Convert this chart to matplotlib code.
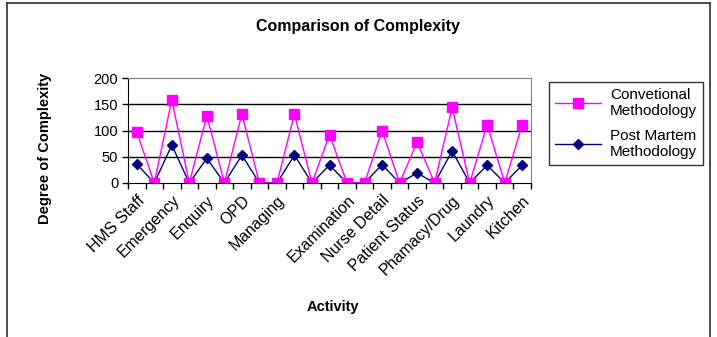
import matplotlib.pyplot as plt
from matplotlib.lines import Line2D

plt.rcParams['font.family'] = ['Liberation Sans', 'DejaVu Sans']

# 23 categories, only every other one carries a name (blanks in between)
categories = ["HMS Staff", "", "Emergency", "", "Enquiry", "", "OPD", "", "Managing", "",
              "", "", "Examination", "", "Nurse Detail", "", "Patient Status", "",
              "Phamacy/Drug", "", "Laundry", "", "Kitchen"]
conventional = [97, 0, 158, 0, 128, 0, 131, 0, 0, 131, 0, 92, 0, 0, 100, 0, 78, 0,
                144, 0, 111, 0, 111]
post_martem = [36, 0, 72, 0, 47, 0, 53, 0, 0, 53, 0, 34, 0, 0, 35, 0, 19, 0,
               61, 0, 34, 0, 34]
y_ticks = [0, 50, 100, 150, 200]

fig = plt.figure(figsize=(7.17, 3.37), dpi=100)
ax = fig.add_axes([128 / 717, 1 - 183 / 337, 403 / 717, 105 / 337])

x = range(len(categories))
ax.plot(x, post_martem, color="#000080", lw=1, marker="D", ms=5,
        mfc="#000080", mec="#000080", label="Post Martem\nMethodology", zorder=3)
ax.plot(x, conventional, color="#FF00FF", lw=1, marker="s", ms=6.5,
        mfc="#FF00FF", mec="#FF00FF", label="Convetional\nMethodology", zorder=4)

ax.set_xlim(-0.5, len(categories) - 0.5)
ax.set_ylim(0, 200)
ax.set_yticks(y_ticks)
ax.tick_params(axis="y", labelsize=10.5, length=4, width=1, pad=3, direction="out")

# category labels at centres, tick marks at boundaries
ax.set_xticks(list(x))
ax.set_xticklabels(categories, rotation=45, ha="right", rotation_mode="anchor", fontsize=11.5)
ax.tick_params(axis="x", which="major", length=0, pad=7)
ax.set_xticks([i - 0.5 for i in range(len(categories) + 1)], minor=True)
ax.tick_params(axis="x", which="minor", length=4, width=1, direction="out")

for v in y_ticks[1:-1]:
    ax.axhline(v, color="black", lw=1, zorder=1)
ax.spines["left"].set_color("black")
ax.spines["bottom"].set_color("black")
ax.spines["top"].set_color("#808080")
ax.spines["right"].set_color("#808080")
ax.spines["bottom"].set_zorder(5)

fig.text(333 / 717, 1 - 307 / 337, "Activity", ha="center", va="center",
         fontsize=10.5, fontweight="bold")
fig.text(45 / 717, 1 - 148 / 337, "Degree of Complexity", ha="center", va="center",
         rotation=90, fontsize=10.5, fontweight="bold")
fig.text(358 / 717, 1 - 27 / 337, "Comparison of Complexity", ha="center", va="center",
         fontsize=11.5, fontweight="bold")

handles, labels = ax.get_legend_handles_labels()
leg = fig.legend(handles[::-1], labels[::-1], loc="upper left",
                 bbox_to_anchor=(549 / 717, 1 - 82 / 337), fontsize=11,
                 frameon=True, fancybox=False, edgecolor="black", handlelength=3.0,
                 handletextpad=0.6, labelspacing=0.7, borderpad=0.4, borderaxespad=0)
leg.get_frame().set_linewidth(1)
for t in leg.get_texts():
    t.set_multialignment("left")

# outer chart border
for xs, ys in [([7 / 717, 7 / 717], [0, 1 - 3 / 337]),
               ([7 / 717, 710 / 717], [1 - 3 / 337, 1 - 3 / 337]),
               ([710 / 717, 710 / 717], [1 - 3 / 337, 0])]:
    fig.add_artist(Line2D(xs, ys, color="#404040", lw=1.3, transform=fig.transFigure))

fig.savefig("out.png", dpi=100)
